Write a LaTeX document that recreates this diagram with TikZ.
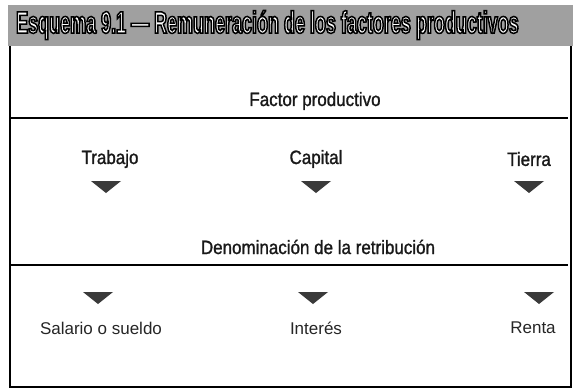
\documentclass[tikz,border=0pt]{standalone}
\usepackage{fontspec}
\setmainfont{Liberation Sans}
\newfontfamily\titlefont{Liberation Sans Bold}[FakeStretch=0.58]
\newfontfamily\labfont{Liberation Sans}[FakeStretch=0.88,FakeBold=1.2]
\newcommand\outlinedtext[1]{\special{pdf:literal direct 0 G 1.5 w 2 Tr}#1\special{pdf:literal direct 0 Tr}}
\definecolor{bargray}{HTML}{A0A0A0}
\definecolor{tricol}{HTML}{3A3A3A}
\tikzset{
  toplab/.style={font=\labfont\fontsize{19.3}{21}\selectfont, inner sep=0pt, text=black!90},
  botlab/.style={font=\fontsize{17}{19}\selectfont, inner sep=0pt, text=black!85},
  rule/.style={line width=1.4pt, black},
  frame/.style={line width=1.3pt, black},
  marker/.style={fill=tricol}
}
\newcommand\marktri[1]{\fill[marker] (#1) ++(-15,0) -- ++(30,0) -- ++(-15,12) -- cycle;}
\begin{document}
\begin{tikzpicture}[x=1pt,y=-1pt]
\useasboundingbox (0,0) rectangle (575,391);
\fill[white] (0,0) rectangle (575,391);
% frame
\draw[frame] (10,44) -- (10,387) -- (571,387) -- (571,44);
% title bar
\fill[bargray] (8,5) rectangle (573,46);
\node[anchor=west, inner sep=0pt, text=white, font=\titlefont\fontsize{31}{33}\selectfont] (title) at (16,25)
  {\outlinedtext{Esquema 9.1 — Remuneración de los factores productivos}};
% header 1
\node[toplab] (fp) at (315,101) {Factor productivo};
\coordinate (r1a) at (11,118);
\coordinate (r1b) at (568,118);
\draw[rule] (r1a) -- (r1b);
% factors
\node[toplab] (trab) at (110,159) {Trabajo};
\node[toplab] (cap) at (316,159) {Capital};
\node[toplab] (tier) at (529,159) {Tierra};
\coordinate (m1) at (106,181);
\coordinate (m2) at (316,181);
\coordinate (m3) at (529,181);
\marktri{m1}\marktri{m2}\marktri{m3}
% header 2
\node[toplab] (den) at (318,247) {Denominación de la retribución};
\coordinate (r2a) at (11,265);
\coordinate (r2b) at (568,265);
\draw[rule] (r2a) -- (r2b);
% bottom markers
\coordinate (m4) at (98,292);
\coordinate (m5) at (313,292);
\coordinate (m6) at (539,292);
\marktri{m4}\marktri{m5}\marktri{m6}
\node[botlab] (sal) at (101,328) {Salario o sueldo};
\node[botlab] (int) at (316,328) {Interés};
\node[botlab] (ren) at (533,328) {Renta};
\end{tikzpicture}
\end{document}
